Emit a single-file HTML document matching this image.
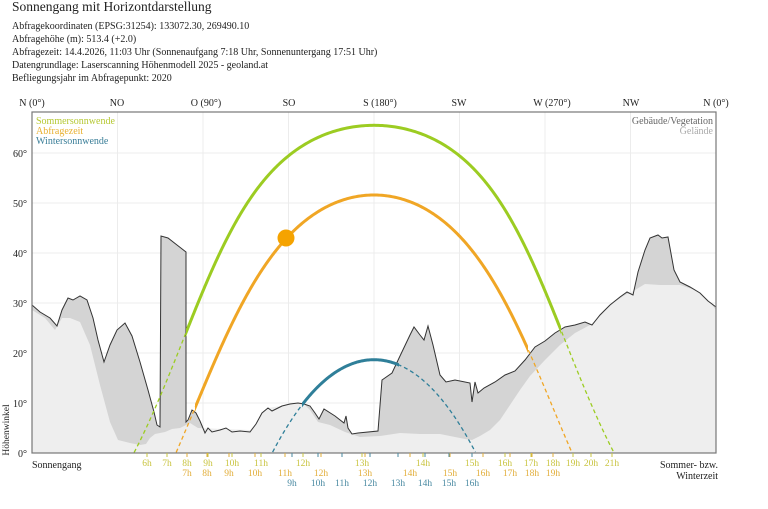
<!DOCTYPE html>
<html><head><meta charset="utf-8"><style>
body{margin:0;background:#fff;width:768px;height:509px;overflow:hidden}
svg{display:block;font-family:"Liberation Serif",serif}
</style></head><body>
<svg id="s" width="768" height="509" xmlns="http://www.w3.org/2000/svg">
<text x="12" y="11" font-size="13.5" fill="#222">Sonnengang mit Horizontdarstellung</text>
<g font-size="10" fill="#222">
<text x="12" y="29">Abfragekoordinaten (EPSG:31254): 133072.30, 269490.10</text>
<text x="12" y="42">Abfragehöhe (m): 513.4 (+2.0)</text>
<text x="12" y="55">Abfragezeit: 14.4.2026, 11:03 Uhr (Sonnenaufgang 7:18 Uhr,  Sonnenuntergang 17:51 Uhr)</text>
<text x="12" y="68">Datengrundlage: Laserscanning Höhenmodell 2025 - geoland.at</text>
<text x="12" y="81">Befliegungsjahr im Abfragepunkt: 2020</text>
</g>
<g font-size="10" fill="#222" text-anchor="middle">
<text x="32" y="106">N (0°)</text><text x="117" y="106">NO</text><text x="206" y="106">O (90°)</text>
<text x="289" y="106">SO</text><text x="380" y="106">S (180°)</text><text x="459" y="106">SW</text>
<text x="552" y="106">W (270°)</text><text x="631" y="106">NW</text><text x="716" y="106">N (0°)</text>
</g>
<g stroke="#ececec" stroke-width="1">
<line x1="117.5" y1="112" x2="117.5" y2="453"/><line x1="203" y1="112" x2="203" y2="453"/><line x1="288.5" y1="112" x2="288.5" y2="453"/><line x1="374" y1="112" x2="374" y2="453"/><line x1="459.5" y1="112" x2="459.5" y2="453"/><line x1="545" y1="112" x2="545" y2="453"/><line x1="630.5" y1="112" x2="630.5" y2="453"/>
<line x1="32" y1="403" x2="716" y2="403"/><line x1="32" y1="353" x2="716" y2="353"/><line x1="32" y1="303" x2="716" y2="303"/><line x1="32" y1="253" x2="716" y2="253"/><line x1="32" y1="203" x2="716" y2="203"/><line x1="32" y1="153" x2="716" y2="153"/>
</g>
<g font-size="10" fill="#222" text-anchor="end">
<text x="27" y="457">0°</text><text x="27" y="407">10°</text><text x="27" y="357">20°</text><text x="27" y="307">30°</text><text x="27" y="257">40°</text><text x="27" y="207">50°</text><text x="27" y="157">60°</text>
</g>
<text transform="translate(9,430) rotate(-90)" font-size="9.5" fill="#222" text-anchor="middle">Höhenwinkel</text>
<g id="terr"></g>
<g id="sun"></g>
<circle cx="286" cy="238" r="8.5" fill="#f5a300"/>
<rect x="32" y="112" width="684" height="341" fill="none" stroke="#777" stroke-width="1.2"/>
<g font-size="10">
<text x="36" y="124" fill="#b5c832">Sommersonnwende</text>
<text x="36" y="134" fill="#e8b030">Abfragezeit</text>
<text x="36" y="144" fill="#3a7e98">Wintersonnwende</text>
<text x="713" y="124" fill="#666" text-anchor="end">Gebäude/Vegetation</text>
<text x="713" y="134" fill="#aaa" text-anchor="end">Gelände</text>
</g>
<text x="32" y="468" font-size="10" fill="#222">Sonnengang</text>
<text x="718" y="468" font-size="10" fill="#222" text-anchor="end">Sommer- bzw.</text>
<text x="718" y="479" font-size="10" fill="#222" text-anchor="end">Winterzeit</text>
<g id="hrs" font-size="9.5" text-anchor="middle"></g>
</svg>
<script>
(function(){
var NS="http://www.w3.org/2000/svg";
function el(p,n,a){var e=document.createElementNS(NS,n);for(var k in a)e.setAttribute(k,a[k]);p.appendChild(e);return e;}
var topl=[[32,305],[40,312],[50,318],[57,326],[62,310],[68,298],[73,300],[80,296],[87,300],[93,318],[98,340],[104,362],[110,345],[117,330],[125,323],[132,336],[140,362],[148,390],[154,412],[157,425],[160,427],[161,236],[168,238],[177,245],[186,252],[186,422],[188,420],[192,410],[196,413],[200,421],[205,433],[208,428],[212,432],[220,430],[226,428],[232,432],[240,431],[250,432],[256,424],[262,413],[268,408],[272,411],[276,409],[282,406],[290,404],[298,403],[304,404],[310,406],[315,413],[319,419],[324,409],[335,416],[344,423],[346,416],[348,428],[352,434],[358,433],[378,431],[382,380],[392,373],[400,356],[410,335],[414,327],[420,335],[424,340],[428,326],[433,345],[440,375],[446,382],[455,380],[470,383],[472,402],[475,382],[478,393],[484,388],[495,382],[505,375],[515,371],[525,360],[535,347],[545,341],[555,333],[565,327],[575,325],[585,322],[592,325],[600,315],[610,305],[620,297],[627,292],[633,295],[638,272],[645,250],[650,238],[658,235],[662,238],[668,237],[674,270],[680,282],[690,287],[700,293],[708,301],[716,307]];
var grd=[[32,310],[45,318],[55,330],[62,318],[70,318],[80,322],[90,345],[100,385],[110,422],[118,440],[130,443],[140,445],[146,444],[150,438],[155,434],[165,432],[172,429],[180,428],[190,423],[198,428],[250,430],[256,424],[262,413],[268,408],[298,403],[304,404],[310,410],[318,422],[330,425],[345,432],[360,437],[380,436],[400,433],[420,434],[440,434],[455,437],[465,439],[472,440],[480,436],[490,430],[500,420],[510,405],[520,390],[530,376],[545,360],[560,345],[575,333],[590,325],[600,316],[610,305],[625,295],[635,290],[645,284],[660,285],[680,285],[695,290],[708,300],[716,310]];
function pts(a){return a.map(function(p){return p[0]+","+p[1]}).join(" ");}
var t=document.getElementById("terr");
el(t,"polygon",{points:pts(topl)+" 716,453 32,453",fill:"#d4d4d4"});
el(t,"polygon",{points:pts(grd)+" 716,453 32,453",fill:"#eeeeee"});
el(t,"polyline",{points:pts(topl),fill:"none",stroke:"#333","stroke-width":1});
var lat=47.9*Math.PI/180, s=document.getElementById("sun");
function path(decd){var d=decd*Math.PI/180,out=[];for(var H=-180;H<=180;H+=0.5){var h=H*Math.PI/180;var alt=Math.asin(Math.sin(lat)*Math.sin(d)+Math.cos(lat)*Math.cos(d)*Math.cos(h));var az=Math.atan2(Math.sin(h),Math.cos(h)*Math.sin(lat)-Math.tan(d)*Math.cos(lat))*180/Math.PI+180;var a=alt*180/Math.PI;if(a>=0)out.push([32+az*1.9,453-a*5]);}return out;}
var defs=el(s,"defs",{});
function curve(dec,col,x1,x2,id){var p=path(dec);var c=el(defs,"clipPath",{id:id});el(c,"rect",{x:x1,y:0,width:x2-x1,height:509});
el(s,"polyline",{points:pts(p),fill:"none",stroke:col,"stroke-width":1.3,"stroke-dasharray":"4,3"});
el(s,"polyline",{points:pts(p),fill:"none",stroke:col,"stroke-width":3,"clip-path":"url(#"+id+")"});}
curve(23.44,"#9ccc22",186,561,"c1");
curve(9.5,"#f0a625",195,528,"c2");
curve(-23.44,"#2f7f99",302,399,"c3");
var hr=document.getElementById("hrs");
function row(y,col,list){list.forEach(function(l){var e=el(hr,"text",{x:l[0],y:y,fill:col});e.textContent=l[1];el(hr,"line",{x1:l[0],y1:453,x2:l[0],y2:457,stroke:col,"stroke-width":1});});}
row(466,"#c9c440",[[147,"6h"],[167,"7h"],[187,"8h"],[208,"9h"],[232,"10h"],[261,"11h"],[303,"12h"],[362,"13h"],[423,"14h"],[472,"15h"],[505,"16h"],[531,"17h"],[553,"18h"],[573,"19h"],[591,"20h"],[612,"21h"]]);
row(476,"#e2ae3a",[[187,"7h"],[207,"8h"],[229,"9h"],[255,"10h"],[285,"11h"],[321,"12h"],[365,"13h"],[410,"14h"],[450,"15h"],[483,"16h"],[510,"17h"],[532,"18h"],[553,"19h"]]);
row(486,"#4a8aa2",[[292,"9h"],[318,"10h"],[342,"11h"],[370,"12h"],[398,"13h"],[425,"14h"],[449,"15h"],[472,"16h"]]);
})();
</script>
</body></html>
